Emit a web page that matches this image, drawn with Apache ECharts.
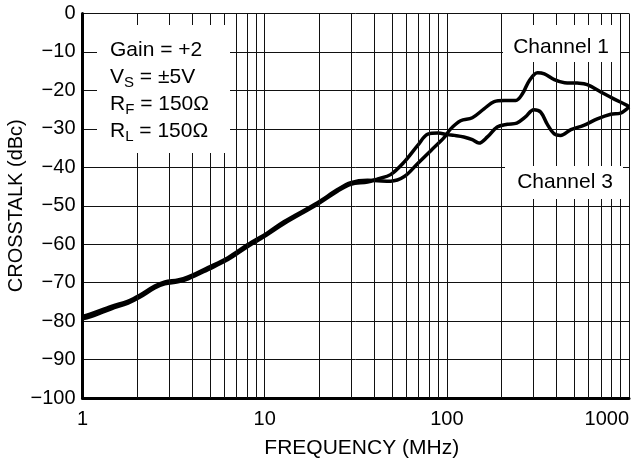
<!DOCTYPE html>
<html>
<head>
<meta charset="utf-8">
<script src="https://cdn.jsdelivr.net/npm/echarts@6/dist/echarts.min.js"></script>
<style>html,body{margin:0;padding:0;background:#fff}#c{width:640px;height:461px}</style>
</head>
<body>
<div id="c"></div>
<script>
// ---- data ----
const xTickLabels = ['1', '10', '100', '1000'];
const yTickValues = [0, -10, -20, -30, -40, -50, -60, -70, -80, -90, -100];
const xMinorGrid = [2,3,4,5,6,7,8,9,20,30,40,50,60,70,80,90,200,300,400,500,600,700,800,900];

const ch1Freq = [1, 1.1, 1.44, 1.78, 2.06, 2.49, 2.83, 3.34, 3.8, 4.88, 6.29, 8.08, 10.4, 12.8, 19.5, 25.1, 29.7, 36.7, 41.8, 49.1, 58.4, 69.2, 81.9, 96.5, 105, 119, 138, 160, 182, 206, 239, 260, 284, 315, 343, 389, 443, 520, 590, 700, 825, 975, 1000];
const ch1Db   = [-78.8, -78.2, -76.2, -74.8, -73.3, -70.9, -69.8, -69.3, -68.5, -66.1, -63.5, -60.1, -57.0, -54.1, -49.2, -45.8, -44.0, -43.4, -43.5, -43.6, -42.4, -39.0, -35.6, -32.3, -30.0, -27.9, -27.1, -24.8, -22.9, -22.6, -22.6, -20.9, -17.4, -15.4, -15.7, -17.2, -18.0, -18.1, -18.5, -20.4, -22.2, -23.9, -24.3];

const ch3Freq = [1, 1.1, 1.44, 1.78, 2.06, 2.49, 2.83, 3.34, 3.8, 4.88, 6.29, 8.08, 10.4, 12.8, 19.5, 25.1, 29.7, 36.7, 41.8, 49.1, 58.4, 69.2, 78.6, 89.3, 101, 110, 124, 138, 150, 167, 189, 215, 242, 270, 300, 327, 355, 389, 421, 480, 564, 670, 794, 900, 975, 1000];
const ch3Db   = [-79.4, -78.9, -76.8, -75.3, -73.8, -71.4, -70.3, -69.8, -69.0, -66.6, -64.0, -60.6, -57.4, -54.6, -49.6, -46.2, -44.4, -43.8, -43.0, -41.9, -38.6, -34.3, -31.4, -31.1, -31.5, -31.7, -32.1, -32.8, -33.7, -32.1, -29.5, -28.8, -28.5, -26.9, -25.0, -25.6, -28.7, -31.3, -31.7, -30.2, -29.1, -27.4, -26.2, -25.9, -24.8, -24.3];

const FONT = '"Liberation Sans", Arial, Helvetica, sans-serif';
const zip = (xs, ys) => xs.map((x, i) => [x, ys[i]]);

const chart = echarts.init(document.getElementById('c'), null, {renderer: 'canvas'});
chart.setOption({
  animation: false,
  backgroundColor: '#fff',
  grid: {left: 82.5, right: 11, top: 13.5, bottom: 63, containLabel: false, outerBoundsMode: 'none'},
  xAxis: {
    type: 'log', logBase: 10, min: 1, max: 1000,
    name: 'FREQUENCY (MHz)', nameLocation: 'middle', nameGap: 40, nameMoveOverlap: false,
    nameTextStyle: {fontFamily: FONT, fontSize: 21, color: '#000', padding: [0, 0, 0, 12]},
    axisLine: {show: true, onZero: false, lineStyle: {color: '#000', width: 3}},
    axisTick: {show: false},
    axisLabel: {
      fontFamily: FONT, fontSize: 20, color: '#000', margin: 11,
      alignMaxLabel: 'right',
      formatter: v => xTickLabels[Math.round(Math.log10(v))] || ''
    },
    splitLine: {show: true, lineStyle: {color: '#111', width: 1}}
  },
  yAxis: {
    type: 'value', min: -100, max: 0, interval: 10,
    name: 'CROSSTALK (dBc)', nameLocation: 'middle', nameGap: 56, nameMoveOverlap: false,
    nameTextStyle: {fontFamily: FONT, fontSize: 20, color: '#000'},
    axisLine: {show: true, onZero: false, lineStyle: {color: '#000', width: 3}},
    axisTick: {show: false},
    axisLabel: {
      fontFamily: FONT, fontSize: 20, color: '#000', margin: 7,
      formatter: v => (yTickValues.indexOf(v) >= 0 ? String(v).replace('-', '\u2212') : '')
    },
    splitLine: {show: true, lineStyle: {color: '#111', width: 1}}
  },
  series: [
    {
      type: 'line', data: [], silent: true, z: 1,
      markLine: {
        silent: true, symbol: ['none', 'none'], label: {show: false},
        lineStyle: {color: '#111', width: 1, type: 'solid'},
        emphasis: {disabled: true},
        data: xMinorGrid.map(v => ({xAxis: v}))
      }
    },
    {
      name: 'Channel 1', type: 'line', smooth: 0.35, showSymbol: false, z: 3,
      lineStyle: {color: '#000', width: 3.5}, data: zip(ch1Freq, ch1Db)
    },
    {
      name: 'Channel 3', type: 'line', smooth: 0.35, showSymbol: false, z: 3,
      lineStyle: {color: '#000', width: 3.5}, data: zip(ch3Freq, ch3Db)
    }
  ],
  graphic: [
    {type: 'rect', z: 100, shape: {x: 97, y: 25, width: 133, height: 128}, style: {fill: '#fff'}},
    {type: 'rect', z: 100, shape: {x: 503, y: 25, width: 117, height: 37}, style: {fill: '#fff'}},
    {type: 'rect', z: 100, shape: {x: 505, y: 166, width: 118, height: 33}, style: {fill: '#fff'}},
    {
      type: 'text', z: 101, x: 110, y: 36.5,
      style: {
        text: 'Gain = +2\nV{s|S} = \u00b15V\nR{s|F} = 150\u03a9\nR{s|L} = 150\u03a9',
        font: '21px ' + FONT, fill: '#000', lineHeight: 27,
        rich: {s: {fontSize: 15, fontFamily: FONT, lineHeight: 13, verticalAlign: 'bottom', fill: '#000'}}
      }
    },
    {type: 'text', z: 101, x: 561, y: 47, style: {text: 'Channel 1', font: '21px ' + FONT, fill: '#000', align: 'center', verticalAlign: 'middle'}},
    {type: 'text', z: 101, x: 565, y: 182, style: {text: 'Channel 3', font: '21px ' + FONT, fill: '#000', align: 'center', verticalAlign: 'middle'}}
  ]
});
</script>
</body>
</html>
